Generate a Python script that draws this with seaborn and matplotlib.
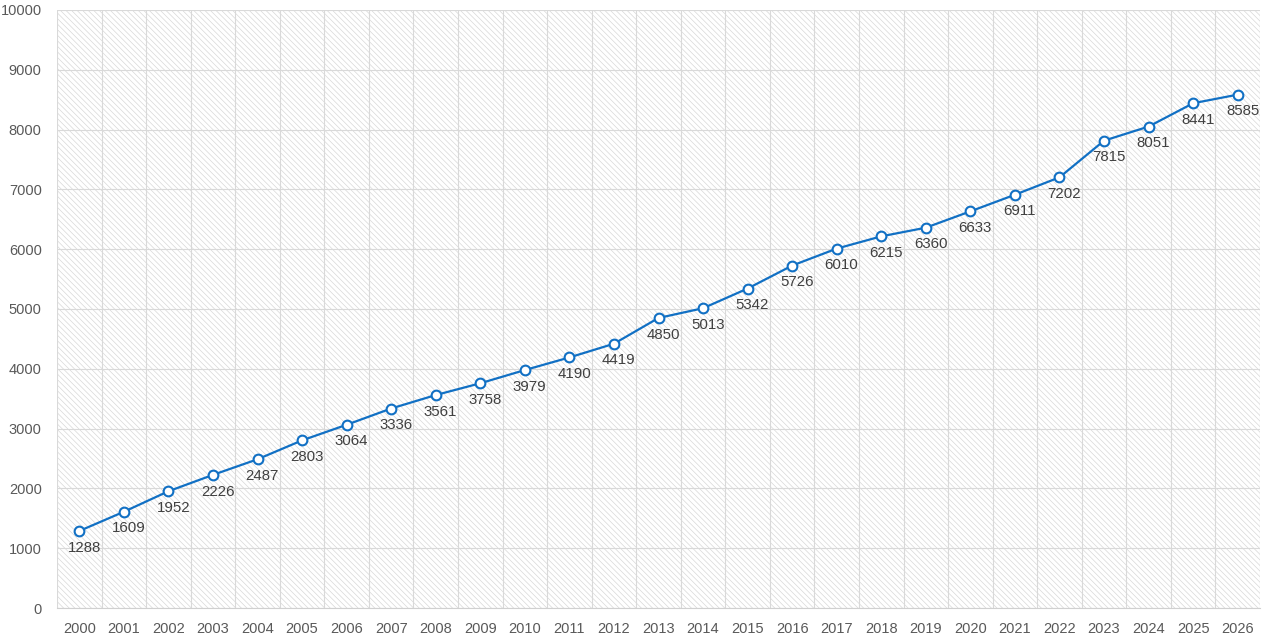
import numpy as np
import pandas as pd
import seaborn as sns
import matplotlib.pyplot as plt
from matplotlib.patches import Rectangle

years = [str(y) for y in range(2000, 2027)]
values = [1288, 1609, 1952, 2226, 2487, 2803, 3064, 3336, 3561, 3758,
          3979, 4190, 4419, 4850, 5013, 5342, 5726, 6010, 6215, 6360,
          6633, 6911, 7202, 7815, 8051, 8441, 8585]
y_ticks = list(range(0, 10001, 1000))

df = pd.DataFrame({"pos": range(len(years)), "year": years, "value": values})

sns.set_style("white")
plt.rcParams["font.family"] = ["Liberation Sans", "DejaVu Sans"]
plt.rcParams["hatch.linewidth"] = 0.5

fig = plt.figure(figsize=(12.72, 6.44), dpi=100)
ax = fig.add_axes([57 / 1272, 1 - 608 / 644, (1260 - 57) / 1272, (608 - 10) / 644])

# hatched plot background
bg = Rectangle((0, 0), 1, 1, transform=ax.transAxes, facecolor="white",
               edgecolor="#d8d8d8", hatch="\\" * 6, linewidth=0, zorder=0)
ax.add_patch(bg)

line_color = "#1170C4"
sns.lineplot(data=df, x="pos", y="value", ax=ax, color=line_color, linewidth=1.6,
             marker="o", markersize=7, markerfacecolor="white",
             markeredgecolor=line_color, markeredgewidth=1.5, zorder=3)

for i, v in enumerate(values):
    ax.annotate(str(v), (i, v), xytext=(3.5, -12), textcoords="offset points",
                ha="center", va="center", fontsize=10.8, color="#404040", zorder=4)

ax.set_xlim(-0.5, len(years) - 0.5)
ax.set_ylim(0, 10000)
ax.set_xticks(range(len(years)))
ax.set_xticklabels(years)
ax.set_xticks(np.arange(-0.5, len(years), 1), minor=True)
ax.set_yticks(y_ticks)
ax.tick_params(axis="x", which="both", length=0, labelsize=10.5,
               labelcolor="#595959", pad=10)
ax.tick_params(axis="y", which="both", length=0, labelsize=10.5,
               labelcolor="#595959", pad=11)
ax.grid(axis="y", which="major", color="#d9d9d9", linewidth=0.8)
ax.grid(axis="x", which="minor", color="#d9d9d9", linewidth=0.8)
ax.grid(axis="x", which="major", visible=False)
ax.set_axisbelow(True)
for side in ["top", "right", "left"]:
    ax.spines[side].set_visible(False)
ax.spines["bottom"].set_color("#d0d0d0")
ax.set_xlabel("")
ax.set_ylabel("")

fig.savefig("out.png", dpi=100)
